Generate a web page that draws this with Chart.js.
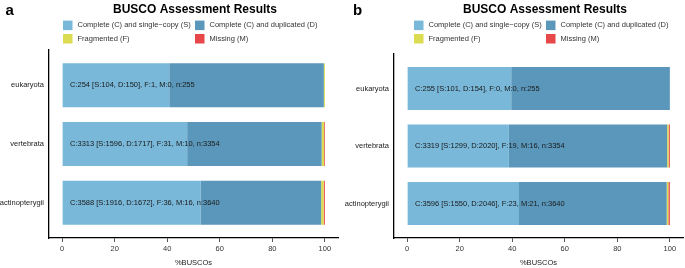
<!DOCTYPE html>
<html>
<head>
<meta charset="utf-8">
<script src="https://cdn.jsdelivr.net/npm/chart.js@4.4.0/dist/chart.umd.min.js"></script>
<style>
    html, body { margin: 0; padding: 0; background: #fff; }
    body { width: 685px; height: 268px; position: relative; overflow: hidden; }
    .panel { position: absolute; top: 0; height: 268px; }
    #panelA { left: 0; width: 343px; }
    #panelB { left: 343px; width: 342px; }
</style>
</head>
<body>
<div class="panel" id="panelA"><canvas id="chartA"></canvas></div>
<div class="panel" id="panelB"><canvas id="chartB"></canvas></div>
<script>
// BUSCO lineages (same in both panels)
const lineages = ['eukaryota', 'vertebrata', 'actinopterygii'];
const lineageTotals = [255, 3354, 3640];

// panel a: BUSCO counts
const singleA = [104, 1596, 1916];
const duplicatedA = [150, 1717, 1672];
const fragmentedA = [1, 31, 36];
const missingA = [0, 10, 16];

// panel b: BUSCO counts
const singleB = [101, 1299, 1550];
const duplicatedB = [154, 2020, 2046];
const fragmentedB = [0, 19, 23];
const missingB = [0, 16, 21];

const categoryNames = [
    'Complete (C) and single\u2212copy (S)',
    'Complete (C) and duplicated (D)',
    'Fragmented (F)',
    'Missing (M)'
];
const xTicks = [0, 20, 40, 60, 80, 100];

const colors = ['#79B8D9', '#5A97BA', '#DCDC52', '#E8474A'];
const FONT = '"Liberation Sans", Arial, Helvetica, sans-serif';

// percentage of the lineage total, one point per lineage
function toPoints(counts) {
    return counts.map((c, i) => ({ x: c / lineageTotals[i] * 100, y: i + 1 }));
}

function barLabels(s, d, f, m) {
    return lineages.map((_, i) =>
        `C:${s[i] + d[i]} [S:${s[i]}, D:${d[i]}], F:${f[i]}, M:${m[i]}, n:${lineageTotals[i]}`);
}

// title, legend, panel letter and the text inside the bars
const decorPlugin = {
    id: 'decor',
    afterDatasetsDraw(chart, args, opts) {
        const ctx = chart.ctx;
        const xs = chart.scales.x;
        const ys = chart.scales.y;
        ctx.save();
        ctx.font = `7.5px ${FONT}`;
        ctx.fillStyle = '#1a1a1a';
        ctx.textAlign = 'left';
        ctx.textBaseline = 'middle';
        opts.barText.forEach((t, i) => {
            ctx.fillText(t, xs.getPixelForValue(3), ys.getPixelForValue(i + 1));
        });
        ctx.restore();
    },
    afterDraw(chart, args, opts) {
        const ctx = chart.ctx;
        ctx.save();
        // panel letter
        ctx.fillStyle = '#000';
        ctx.font = `bold 15px ${FONT}`;
        ctx.textAlign = 'left';
        ctx.textBaseline = 'alphabetic';
        ctx.fillText(opts.letter, opts.letterX, 14.5);
        // title
        ctx.font = `bold 12px ${FONT}`;
        ctx.textAlign = 'center';
        ctx.fillText('BUSCO Assessment Results', opts.titleX, opts.titleY);
        // legend, 2 x 2
        ctx.font = `7.5px ${FONT}`;
        ctx.textAlign = 'left';
        ctx.textBaseline = 'middle';
        const rows = [25.3, 38.7];
        chart.data.datasets.forEach((ds, i) => {
            const col = i % 2;
            const cy = rows[Math.floor(i / 2)];
            const sx = opts.legendCols[col];
            ctx.fillStyle = ds.backgroundColor;
            ctx.fillRect(sx, cy - 4.7, 9.5, 9.5);
            ctx.fillStyle = '#333';
            ctx.fillText(ds.label, sx + 14.5, cy);
        });
        ctx.restore();
    }
};

function makeChart(canvasId, counts, layout) {
    const [s, d, f, m] = counts;
    const datasets = counts.map((arr, k) => ({
        label: categoryNames[k],
        data: toPoints(arr),
        backgroundColor: colors[k],
        borderWidth: 0,
        categoryPercentage: 0.75,
        barPercentage: 1
    }));

    return new Chart(document.getElementById(canvasId), {
        type: 'bar',
        data: { datasets },
        options: {
            indexAxis: 'y',
            responsive: true,
            maintainAspectRatio: false,
            animation: false,
            layout: { padding: { top: layout.top, right: layout.right, left: 0, bottom: 0 } },
            plugins: {
                legend: { display: false },
                tooltip: { enabled: false },
                decor: {
                    letter: layout.letter,
                    letterX: layout.letterX,
                    titleX: layout.titleX,
                    titleY: layout.titleY,
                    legendCols: layout.legendCols,
                    barText: barLabels(s, d, f, m)
                }
            },
            scales: {
                x: {
                    type: 'linear',
                    stacked: true,
                    min: -5,
                    max: 105,
                    afterBuildTicks: scale => { scale.ticks = xTicks.map(v => ({ value: v })); },
                    afterFit: scale => { scale.height = 30; },
                    grid: { drawOnChartArea: false, drawTicks: true, tickLength: 4, color: '#555', lineWidth: 1 },
                    border: { display: true, color: '#000', width: 1.3 },
                    ticks: { color: '#333', padding: 2, font: { size: 7.5, family: FONT } },
                    title: {
                        display: true,
                        text: '%BUSCOs',
                        color: '#222',
                        font: { size: 7.5, family: FONT },
                        padding: { top: 0, bottom: 1 }
                    }
                },
                y: {
                    type: 'linear',
                    stacked: true,
                    reverse: true,
                    offset: false,
                    min: 0.4,
                    max: 3.6,
                    afterBuildTicks: scale => { scale.ticks = lineages.map((_, i) => ({ value: i + 1 })); },
                    afterFit: scale => { scale.width = layout.yWidth; },
                    grid: { display: false, drawTicks: false, offset: false },
                    border: { display: true, color: '#000', width: 1.3 },
                    ticks: {
                        color: '#222',
                        padding: 5,
                        font: { size: 7.5, family: FONT },
                        callback: v => lineages[v - 1]
                    }
                }
            }
        },
        plugins: [decorPlugin]
    });
}

makeChart('chartA', [singleA, duplicatedA, fragmentedA, missingA], {
    top: 50, right: 5, yWidth: 49,
    letter: 'a', letterX: 5.5,
    titleX: 195, titleY: 12.5,
    legendCols: [63, 195]
});

makeChart('chartB', [singleB, duplicatedB, fragmentedB, missingB], {
    top: 54, right: 2, yWidth: 51,
    letter: 'b', letterX: 10,
    titleX: 202, titleY: 13.3,
    legendCols: [71, 203]
});
</script>
</body>
</html>
